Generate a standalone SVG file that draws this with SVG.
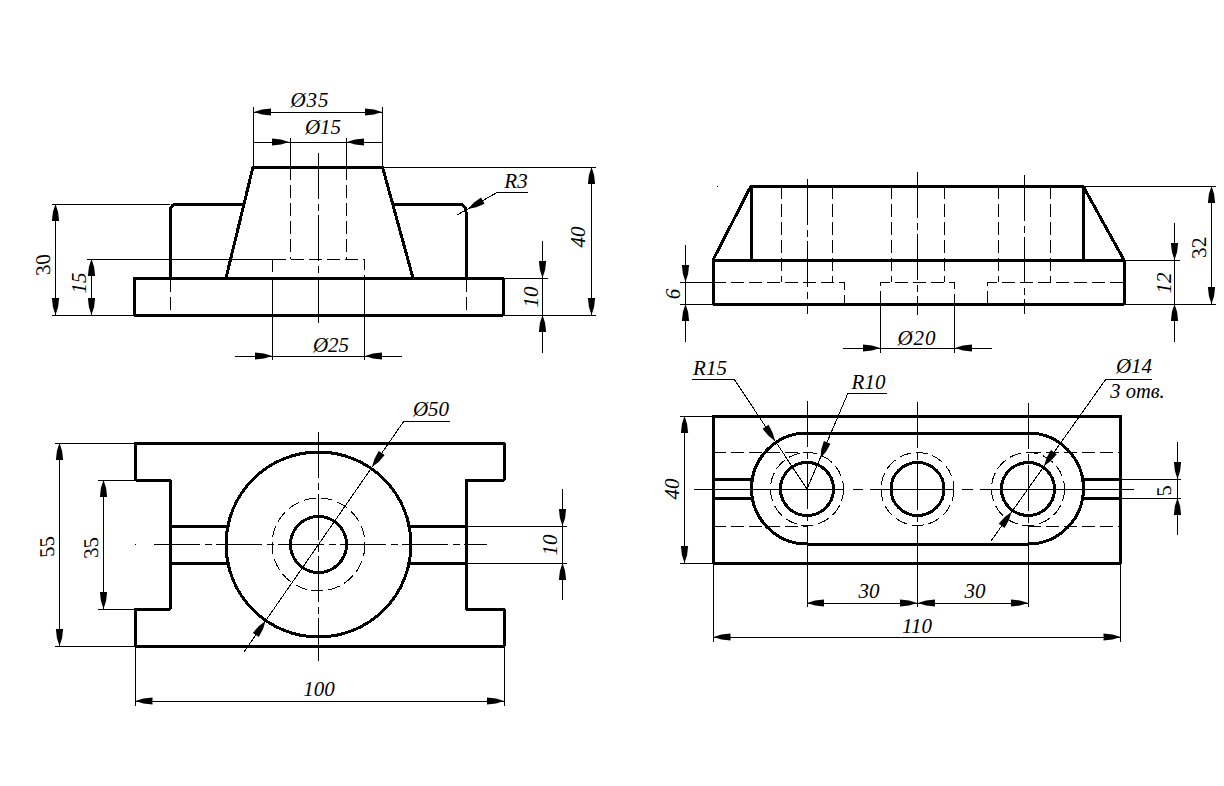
<svg xmlns="http://www.w3.org/2000/svg" xmlns:xlink="http://www.w3.org/1999/xlink" width="1224" height="786" viewBox="0 0 1224 786">
<style>
text{font-family:"Liberation Serif","Noto Sans CJK SC",serif;font-style:italic;font-size:21px;fill:#000;text-anchor:middle}
.o{fill:none;stroke:#000;stroke-width:3;stroke-linejoin:round;stroke-linecap:round;shape-rendering:crispEdges}
.t{fill:none;stroke:#000;stroke-width:1;shape-rendering:crispEdges}
.h{fill:none;stroke:#000;stroke-width:1;stroke-dasharray:13 5;shape-rendering:crispEdges}
.r{stroke-dasharray:12 5}
.c{fill:none;stroke:#000;stroke-width:1;stroke-dasharray:46 5 7 4;shape-rendering:crispEdges}
</style>
<defs><path id="a" d="M0 0L-8 -2.600L-17 -3.600L-17 3.600L-8 2.600Z" fill="#000"/></defs>
<rect width="1224" height="786" fill="#fff"/>

<g id="view-front">
<path class="o" d="M134 278H503V315H134Z"/>
<path class="o" d="M226 278L253 167H382.500L413 278"/>
<path class="o" d="M170 278V212Q170 204 178 204H244M393 204H458Q466 204 466 212V278"/>
<path class="h" d="M170.500 279V315M466.500 279V315M290.500 167V259M346.500 167V259M272.500 259H364.500V278M272.500 259V278"/>
<path class="c" d="M318.500 153V327"/>
</g>

<g id="view-plan">
<path class="o" d="M135.500 443H504V480H466V609H504V646H135.500V609H170V480H135.500Z"/>
<path class="o" d="M170 526H229M170 563H229M408 526H466M408 563H466"/>
<circle class="o" cx="318.500" cy="544.500" r="92.500"/>
<circle class="o" cx="318.500" cy="544.500" r="28"/>
<circle class="h r" cx="318.500" cy="544.500" r="46.500"/>
<path class="c" d="M154 544.500H487M318.500 432V661"/>
<path class="t" d="M135 544.500H136"/>
</g>

<g id="view-side">
<path class="o" d="M713 260H1124V304H713ZM713 260L751 186H1083L1124 260M751 186V260M1083 186V260"/>
<path class="h" d="M781.500 186V282M832.500 186V282M891.500 186V282M944.500 186V282M998.500 186V282M1050.500 186V282M713 282H844.500V304M880.500 304V282H954.500V304M987.500 304V282H1124"/>
<path class="c" d="M807.500 179V314M917.500 172V315M1024.500 175V314"/>
<path class="t" d="M717 186H718"/>
</g>

<g id="view-plan-right">
<path class="o" d="M713 416H1120.500V563H713Z"/>
<path class="o" d="M807 433H1028A55.500 55.500 0 0 1 1028 544H807A55.500 55.500 0 0 1 807 433Z"/>
<path class="o" d="M713 479H751M713 498H751M1083 479H1120.500M1083 498H1120.500"/>
<circle class="o" cx="807" cy="489" r="26.500"/>
<circle class="o" cx="917.500" cy="489" r="26.500"/>
<circle class="o" cx="1028" cy="489" r="26.500"/>
<circle class="h r" cx="807" cy="489" r="36.500"/>
<circle class="h r" cx="917.500" cy="489" r="36.500"/>
<circle class="h r" cx="1028" cy="489" r="36.500"/>
<path class="h" d="M713 452.500H807M713 526H807M1028 452.500H1120M1028 526H1120"/>
<path class="t" d="M694 489H843M853 489H863M870 489H953M962 489H973M980 489H1134"/>
<path class="c" d="M807.500 401V563M917.500 402V563M1028.500 403V563"/>
</g>

<g id="connectors">
<path class="t" d="M253.500 107V167M382.500 107V167M253 112H382.500M253 142H382.500M290.500 138V167M346.500 138V167"/>
<path class="t" d="M52 204H170M52 315H134M55.500 204V315M87 259H272M91.500 259V315"/>
<path class="t" d="M382 167H596M503 315H596M591.500 167V315M503 278H548M542.500 241V353"/>
<path class="t" d="M272.500 278V360M364.500 278V360M235 356H402"/>
<path class="t" d="M457 215L498 192H528"/>
<path class="t" d="M55 443H135M55 646H135M59.500 443V646M98 480H135M98 609H135M103.500 480V609"/>
<path class="t" d="M466 526H567M466 563H567M562.500 489V600"/>
<path class="t" d="M135.500 646V706M504.500 646V706M135 701H504"/>
<path class="t" d="M244 652L404 421H450"/>
<path class="t" d="M680 282H713M680 304H713M685.500 245V342"/>
<path class="t" d="M1083 186H1216M1124 304H1216M1211.500 186V304M1124 260H1180M1174.500 223V342"/>
<path class="t" d="M880.500 304V353M954.500 304V353M843 348H992"/>
<path class="t" d="M680 416H713M680 563H713M684.500 416V563"/>
<path class="t" d="M807.500 563V607M917.500 563V607M1028.500 563V607M807 603H1028"/>
<path class="t" d="M713.500 563V642M1120.500 563V642M713 637H1120"/>
<path class="t" d="M1083 479H1181M1083 498H1181M1177.500 442V535"/>
<path class="t" d="M692 379H734L807 489L848 393H887"/>
<path class="t" d="M1152 379H1106L991 541"/>
<use xlink:href="#a" href="#a" transform="translate(254,112) rotate(180)"/>
<use xlink:href="#a" href="#a" transform="translate(382,112)"/>
<use xlink:href="#a" href="#a" transform="translate(289,142)"/>
<use xlink:href="#a" href="#a" transform="translate(347,142) rotate(180)"/>
<use xlink:href="#a" href="#a" transform="translate(55.500,204) rotate(270)"/>
<use xlink:href="#a" href="#a" transform="translate(55.500,315) rotate(90)"/>
<use xlink:href="#a" href="#a" transform="translate(91.500,259) rotate(270)"/>
<use xlink:href="#a" href="#a" transform="translate(91.500,315) rotate(90)"/>
<use xlink:href="#a" href="#a" transform="translate(591.500,167) rotate(270)"/>
<use xlink:href="#a" href="#a" transform="translate(591.500,315) rotate(90)"/>
<use xlink:href="#a" href="#a" transform="translate(542.500,278) rotate(90)"/>
<use xlink:href="#a" href="#a" transform="translate(542.500,315) rotate(270)"/>
<use xlink:href="#a" href="#a" transform="translate(272,356)"/>
<use xlink:href="#a" href="#a" transform="translate(365,356) rotate(180)"/>
<use xlink:href="#a" href="#a" transform="translate(468,209) rotate(150.700)"/>
<use xlink:href="#a" href="#a" transform="translate(59.500,443) rotate(270)"/>
<use xlink:href="#a" href="#a" transform="translate(59.500,646) rotate(90)"/>
<use xlink:href="#a" href="#a" transform="translate(103.500,480) rotate(270)"/>
<use xlink:href="#a" href="#a" transform="translate(103.500,609) rotate(90)"/>
<use xlink:href="#a" href="#a" transform="translate(562.500,526) rotate(90)"/>
<use xlink:href="#a" href="#a" transform="translate(562.500,563) rotate(270)"/>
<use xlink:href="#a" href="#a" transform="translate(135.500,701) rotate(180)"/>
<use xlink:href="#a" href="#a" transform="translate(504,701)"/>
<use xlink:href="#a" href="#a" transform="translate(372,467) rotate(124.700)"/>
<use xlink:href="#a" href="#a" transform="translate(265.500,621) rotate(-55.300)"/>
<use xlink:href="#a" href="#a" transform="translate(685.500,282) rotate(90)"/>
<use xlink:href="#a" href="#a" transform="translate(685.500,304) rotate(270)"/>
<use xlink:href="#a" href="#a" transform="translate(1174.500,260) rotate(90)"/>
<use xlink:href="#a" href="#a" transform="translate(1174.500,304) rotate(270)"/>
<use xlink:href="#a" href="#a" transform="translate(1211.500,186) rotate(270)"/>
<use xlink:href="#a" href="#a" transform="translate(1211.500,304) rotate(90)"/>
<use xlink:href="#a" href="#a" transform="translate(880,348)"/>
<use xlink:href="#a" href="#a" transform="translate(955,348) rotate(180)"/>
<use xlink:href="#a" href="#a" transform="translate(684.500,416) rotate(270)"/>
<use xlink:href="#a" href="#a" transform="translate(684.500,563) rotate(90)"/>
<use xlink:href="#a" href="#a" transform="translate(807,603) rotate(180)"/>
<use xlink:href="#a" href="#a" transform="translate(917,603)"/>
<use xlink:href="#a" href="#a" transform="translate(918,603) rotate(180)"/>
<use xlink:href="#a" href="#a" transform="translate(1028,603)"/>
<use xlink:href="#a" href="#a" transform="translate(713.500,637) rotate(180)"/>
<use xlink:href="#a" href="#a" transform="translate(1120.500,637)"/>
<use xlink:href="#a" href="#a" transform="translate(1177.500,479) rotate(90)"/>
<use xlink:href="#a" href="#a" transform="translate(1177.500,498) rotate(270)"/>
<use xlink:href="#a" href="#a" transform="translate(775,441) rotate(56.400)"/>
<use xlink:href="#a" href="#a" transform="translate(820.500,458) rotate(113.100)"/>
<use xlink:href="#a" href="#a" transform="translate(1044,466) rotate(125.400)"/>
<use xlink:href="#a" href="#a" transform="translate(1011.500,512) rotate(-54.600)"/>
</g>

<g id="labels">
<text x="310" y="107" style="letter-spacing:1px">Ø35</text>
<text x="323" y="134">Ø15</text>
<text x="516" y="188">R3</text>
<text x="331" y="352">Ø25</text>
<text transform="translate(50,263) rotate(-90) skewX(16)">30</text>
<text transform="translate(86,283) rotate(-90)">15</text>
<text transform="translate(585,237) rotate(-90)">40</text>
<text transform="translate(538,297) rotate(-90)">10</text>
<text transform="translate(54,545) rotate(-90) skewX(16)">55</text>
<text transform="translate(98,546) rotate(-90) skewX(16)">35</text>
<text transform="translate(557,545) rotate(-90)">10</text>
<text x="319" y="696">100</text>
<text x="431" y="416">Ø50</text>
<text transform="translate(680,294) rotate(-90)">6</text>
<text transform="translate(1171,283) rotate(-90)">12</text>
<text transform="translate(1206,246) rotate(-90) skewX(16)">32</text>
<text x="917" y="345" style="letter-spacing:1px">Ø20</text>
<text transform="translate(679,489) rotate(-90)">40</text>
<text transform="translate(1171,489) rotate(-90) skewX(16)">5</text>
<text x="869" y="598">30</text>
<text x="975" y="598">30</text>
<text x="917" y="633">110</text>
<text x="710" y="375">R15</text>
<text x="868.500" y="389">R10</text>
<text x="1134" y="373">Ø14</text>
<text x="1137.500" y="398" style="font-size:20.500px">3 отв.</text>
</g>
</svg>
